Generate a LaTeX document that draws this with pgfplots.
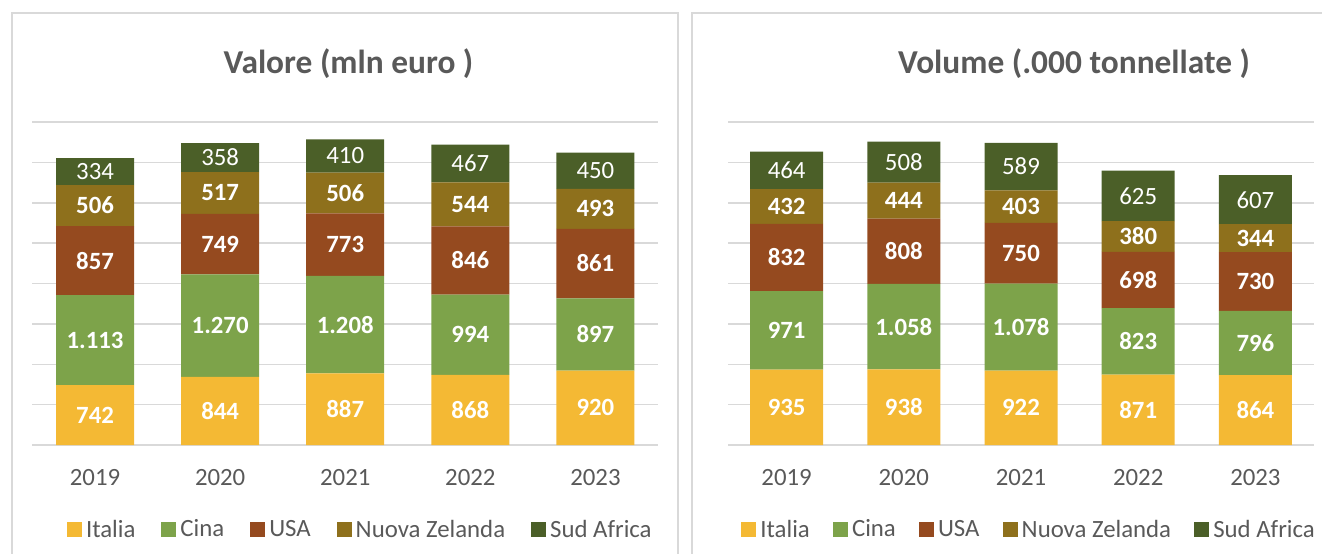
\documentclass[border=0pt]{standalone}
\usepackage{fontspec}
\setmainfont{Carlito}
\usepackage{pgfplots}
\pgfplotsset{compat=1.18}
\definecolor{italia}{HTML}{F4B934}
\definecolor{cina}{HTML}{7DA34A}
\definecolor{usa}{HTML}{954A1F}
\definecolor{nz}{HTML}{8E701C}
\definecolor{sa}{HTML}{4B5F28}
\definecolor{gridc}{HTML}{D9D9D9}
\definecolor{tgray}{HTML}{595959}
\newcommand{\lbl}{\fontsize{12.4}{14}\selectfont}
\pgfplotsset{
  panel/.style={
    ybar stacked,
    scale only axis,
    anchor=south west,
    height=161.5pt,
    ymin=0, ymax=4000,
    ytick={0,500,...,4000},
    yticklabels={},
    ymajorgrids,
    grid style={draw=gridc, line width=0.75pt},
    axis line style={draw=none},
    major tick length=0pt,
    xmin=-0.5, xmax=4.5,
    xtick={0,1,2,3,4},
    xticklabels={2019,2020,2021,2022,2023},
    xticklabel style={anchor=base, yshift=-20pt, font=\lbl, text=tgray},
    /pgf/number format/.cd, 1000 sep={.}, assume math mode=true,
    /pgfplots/.cd,
    nodes near coords,
    every node near coord/.append style={anchor=center, text=white,
      font=\lbl\bfseries},
    legend columns=-1,
    legend image code/.code={\fill[##1] (0pt,-3.75pt) rectangle (7.5pt,3.75pt);},
    legend style={draw=none, fill=none, font=\lbl, text=tgray, anchor=west},
  }
}
\begin{document}
\begin{tikzpicture}
\path[use as bounding box] (0,0) rectangle (661pt,276.5pt);
\draw[gridc, line width=1pt] (6pt,-5pt) -- (6pt,270pt) -- (339pt,270pt) -- (339pt,-5pt);
\draw[gridc, line width=1pt] (346pt,-5pt) -- (346pt,270pt) -- (670pt,270pt);

\begin{axis}[panel, at={(16.25pt,54pt)}, width=312.75pt, bar width=39pt,
  legend style={at={(0.045,-0.263)}, /tikz/every even column/.append style={column sep=11pt}}]
\addplot[fill=italia, draw=none] coordinates {(0,742) (1,844) (2,887) (3,868) (4,920)};
\addplot[fill=cina, draw=none] coordinates {(0,1113) (1,1270) (2,1208) (3,994) (4,897)};
\addplot[fill=usa, draw=none] coordinates {(0,857) (1,749) (2,773) (3,846) (4,861)};
\addplot[fill=nz, draw=none] coordinates {(0,506) (1,517) (2,506) (3,544) (4,493)};
\addplot[fill=sa, draw=none, nodes near coords style={font=\lbl}] coordinates {(0,334) (1,358) (2,410) (3,467) (4,450)};
\legend{Italia, Cina, USA, Nuova Zelanda, Sud Africa}
\end{axis}

\begin{axis}[panel, at={(364pt,54pt)}, width=293pt, bar width=36.5pt,
  legend style={at={(0.012,-0.263)}, /tikz/every even column/.append style={column sep=9.6pt}}]
\addplot[fill=italia, draw=none] coordinates {(0,935) (1,938) (2,922) (3,871) (4,864)};
\addplot[fill=cina, draw=none] coordinates {(0,971) (1,1058) (2,1078) (3,823) (4,796)};
\addplot[fill=usa, draw=none] coordinates {(0,832) (1,808) (2,750) (3,698) (4,730)};
\addplot[fill=nz, draw=none] coordinates {(0,432) (1,444) (2,403) (3,380) (4,344)};
\addplot[fill=sa, draw=none, nodes near coords style={font=\lbl}] coordinates {(0,464) (1,508) (2,589) (3,625) (4,607)};
\legend{Italia, Cina, USA, Nuova Zelanda, Sud Africa}
\end{axis}

\node[anchor=base, text=tgray, font=\fontsize{16.7}{20}\selectfont\bfseries] at (174.25pt,240pt) {Valore (mln euro )};
\node[anchor=base, text=tgray, font=\fontsize{16.7}{20}\selectfont\bfseries] at (537pt,240pt) {Volume (.000 tonnellate )};
\end{tikzpicture}
\end{document}
